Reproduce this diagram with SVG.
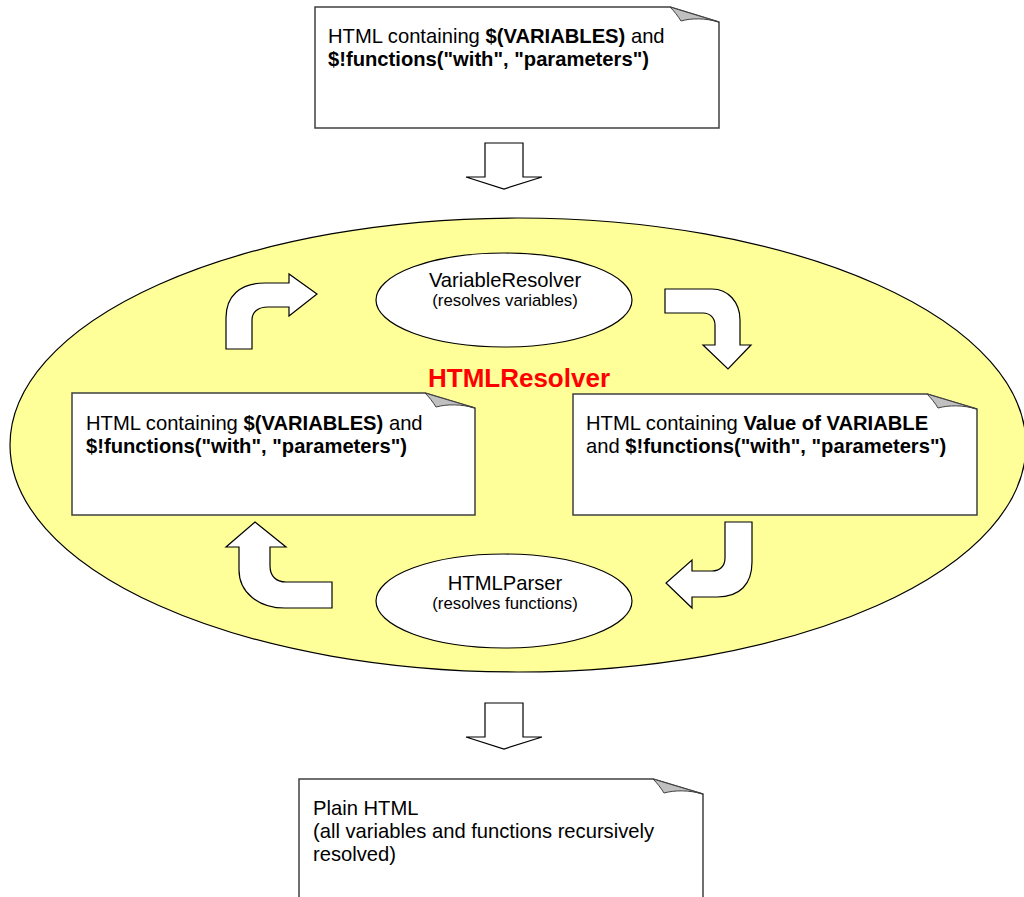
<svg xmlns="http://www.w3.org/2000/svg" width="1024" height="897" viewBox="0 0 1024 897">
  <style>
    .note { fill: #ffffff; stroke: #404040; stroke-width: 1.5; }
    .fold { fill: #c0c0c0; stroke: #404040; stroke-width: 1; }
    .blk { fill: #ffffff; stroke: #000000; stroke-width: 1.2; stroke-linejoin: miter; }
    .proc { fill: #ffffff; stroke: #000000; stroke-width: 1.2; }
    .txt { font-family: "Liberation Sans", Arial, sans-serif; font-size: 20.2px; fill: #000000; }
    .b { font-weight: bold; }
    .sub { font-family: "Liberation Sans", Arial, sans-serif; font-size: 16.8px; fill: #000000; }
    .title { font-family: "Liberation Sans", Arial, sans-serif; font-size: 26px; font-weight: bold; fill: #ff0000; }
  </style>

  <!-- resolver boundary -->
  <g id="html-resolver">
    <ellipse cx="518" cy="445" rx="508" ry="227" fill="#ffff99" stroke="#000000" stroke-width="1.2"/>
    <text class="title" x="519" y="387" text-anchor="middle">HTMLResolver</text>
  </g>

  <!-- input document -->
  <g id="input-html">
    <path class="note" d="M315,7 L670,7 L719,22 L719,128 L315,128 Z"/>
    <path class="fold" d="M670,7 L719,22 C705,18 691,18 681,21 C678,16 674,11 670,7 Z"/>
    <text class="txt" x="328" y="43">HTML containing <tspan class="b">$(VARIABLES)</tspan> and</text>
    <text class="txt b" x="328" y="66">$!functions("with", "parameters")</text>
  </g>

  <!-- document before variable resolution -->
  <g id="html-with-variables">
    <path class="note" d="M72,393 L425,393 L475,408 L475,515 L72,515 Z"/>
    <path class="fold" d="M425,393 L475,408 C461,404 447,404 436,407 C433,402 429,397 425,393 Z"/>
    <text class="txt" x="86" y="430">HTML containing <tspan class="b">$(VARIABLES)</tspan> and</text>
    <text class="txt b" x="86" y="453">$!functions("with", "parameters")</text>
  </g>

  <!-- document after variable resolution -->
  <g id="html-with-values">
    <path class="note" d="M573,394 L927,394 L977,409 L977,515 L573,515 Z"/>
    <path class="fold" d="M927,394 L977,409 C963,405 949,405 938,408 C935,403 931,398 927,394 Z"/>
    <text class="txt" x="586" y="430">HTML containing <tspan class="b">Value of VARIABLE</tspan></text>
    <text class="txt" x="586" y="453">and <tspan class="b">$!functions("with", "parameters")</tspan></text>
  </g>

  <!-- variable resolver -->
  <g id="variable-resolver">
    <ellipse class="proc" cx="504" cy="300" rx="128" ry="47"/>
    <text class="txt" x="505" y="287" text-anchor="middle">VariableResolver</text>
    <text class="sub" x="505" y="306" text-anchor="middle">(resolves variables)</text>
  </g>

  <!-- function parser -->
  <g id="html-parser">
    <ellipse class="proc" cx="504" cy="601" rx="128" ry="47"/>
    <text class="txt" x="505" y="590" text-anchor="middle">HTMLParser</text>
    <text class="sub" x="505" y="609" text-anchor="middle">(resolves functions)</text>
  </g>

  <!-- output document -->
  <g id="plain-html">
    <path class="note" d="M299,779 L653,779 L703,794 L703,900 L299,900 Z"/>
    <path class="fold" d="M653,779 L703,794 C689,790 675,790 664,793 C661,788 657,783 653,779 Z"/>
    <text class="txt" x="313" y="815">Plain HTML</text>
    <text class="txt" x="313" y="838">(all variables and functions recursively</text>
    <text class="txt" x="313" y="861">resolved)</text>
  </g>

  <!-- block arrows -->
  <g id="connectors">
    <path class="blk" d="M485,143 L523,143 L523,177 L542,177 L504,189 L466,177 L485,177 Z"/>
    <path class="blk" d="M226,349 L226,318 C226,296 240,283 265,283 L289,283 L289,274 L317,294 L289,316 L289,307 L268,307 C258,307 252,312 252,320 L252,349 Z"/>
    <path class="blk" d="M665,289 L712,289 C728,289 740,302 740,320 L740,345 L751,345 L728,369 L703,345 L715,345 L715,325 C715,318 710,313 703,313 L665,313 Z"/>
    <path class="blk" d="M725,522 L752,522 L752,562 C752,584 740,597 717,597 L692,597 L692,608 L666,583 L692,560 L692,571 L712,571 C720,571 725,566 725,558 Z"/>
    <path class="blk" d="M255,522 L286,547 L270,547 L270,566 C270,576 276,582 286,582 L332,582 L332,608 L285,608 C258,608 239,592 239,570 L239,547 L226,547 Z"/>
    <path class="blk" d="M485,703 L523,703 L523,737 L542,737 L504,749 L466,737 L485,737 Z"/>
  </g>
</svg>
